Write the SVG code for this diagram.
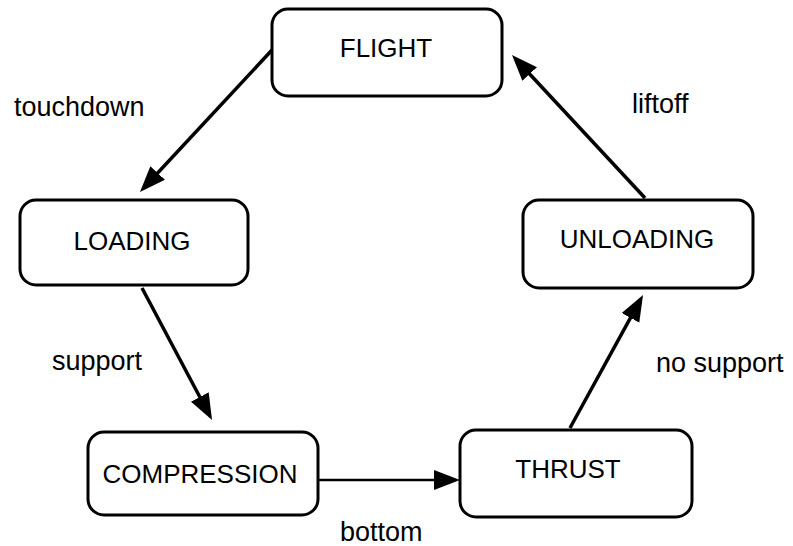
<svg xmlns="http://www.w3.org/2000/svg" width="793" height="546" viewBox="0 0 793 546">
<style>
.box{fill:#fff;stroke:#000;stroke-width:3}
.nt{font-family:"Liberation Sans",Arial,sans-serif;font-size:26px;text-anchor:middle;fill:#000}
.lb{font-family:"Liberation Sans",Arial,sans-serif;font-size:27px;fill:#000}
.ed{stroke:#000;stroke-width:3.5;fill:none}
</style>
<defs>
<marker id="ah" markerUnits="userSpaceOnUse" markerWidth="30" markerHeight="22" refX="11" refY="10" orient="auto">
<path d="M0,0 L26,10 L0,20 z" fill="#000"/>
</marker>
</defs>
<rect width="793" height="546" fill="#fff"/>
<g id="connectors">
<line class="ed" x1="272" y1="50" x2="150.2" y2="181" marker-end="url(#ah)"/>
<line class="ed" x1="142" y1="288" x2="205" y2="406.7" marker-end="url(#ah)"/>
<line class="ed" x1="318" y1="480" x2="445" y2="480" style="stroke-width:2.5" marker-end="url(#ah)"/>
<line class="ed" x1="570" y1="428" x2="635.8" y2="308.2" marker-end="url(#ah)"/>
<line class="ed" x1="645" y1="198" x2="522.2" y2="66" marker-end="url(#ah)"/>
<text class="lb" x="14" y="116">touchdown</text>
<text class="lb" x="52" y="370">support</text>
<text class="lb" x="340" y="541">bottom</text>
<text class="lb" x="656" y="372">no support</text>
<text class="lb" x="632" y="113">liftoff</text>
</g>
<g id="flight"><rect class="box" x="272" y="9" width="230" height="87" rx="16"/><text class="nt" x="386" y="57">FLIGHT</text></g>
<g id="loading"><rect class="box" x="20" y="200" width="228" height="85" rx="16"/><text class="nt" x="132" y="250">LOADING</text></g>
<g id="unloading"><rect class="box" x="523" y="200" width="230" height="88" rx="16"/><text class="nt" x="637" y="248">UNLOADING</text></g>
<g id="compression"><rect class="box" x="88" y="432" width="230" height="83" rx="16"/><text class="nt" x="200" y="483">COMPRESSION</text></g>
<g id="thrust"><rect class="box" x="460" y="430" width="232" height="87" rx="16"/><text class="nt" x="568" y="478">THRUST</text></g>
</svg>
